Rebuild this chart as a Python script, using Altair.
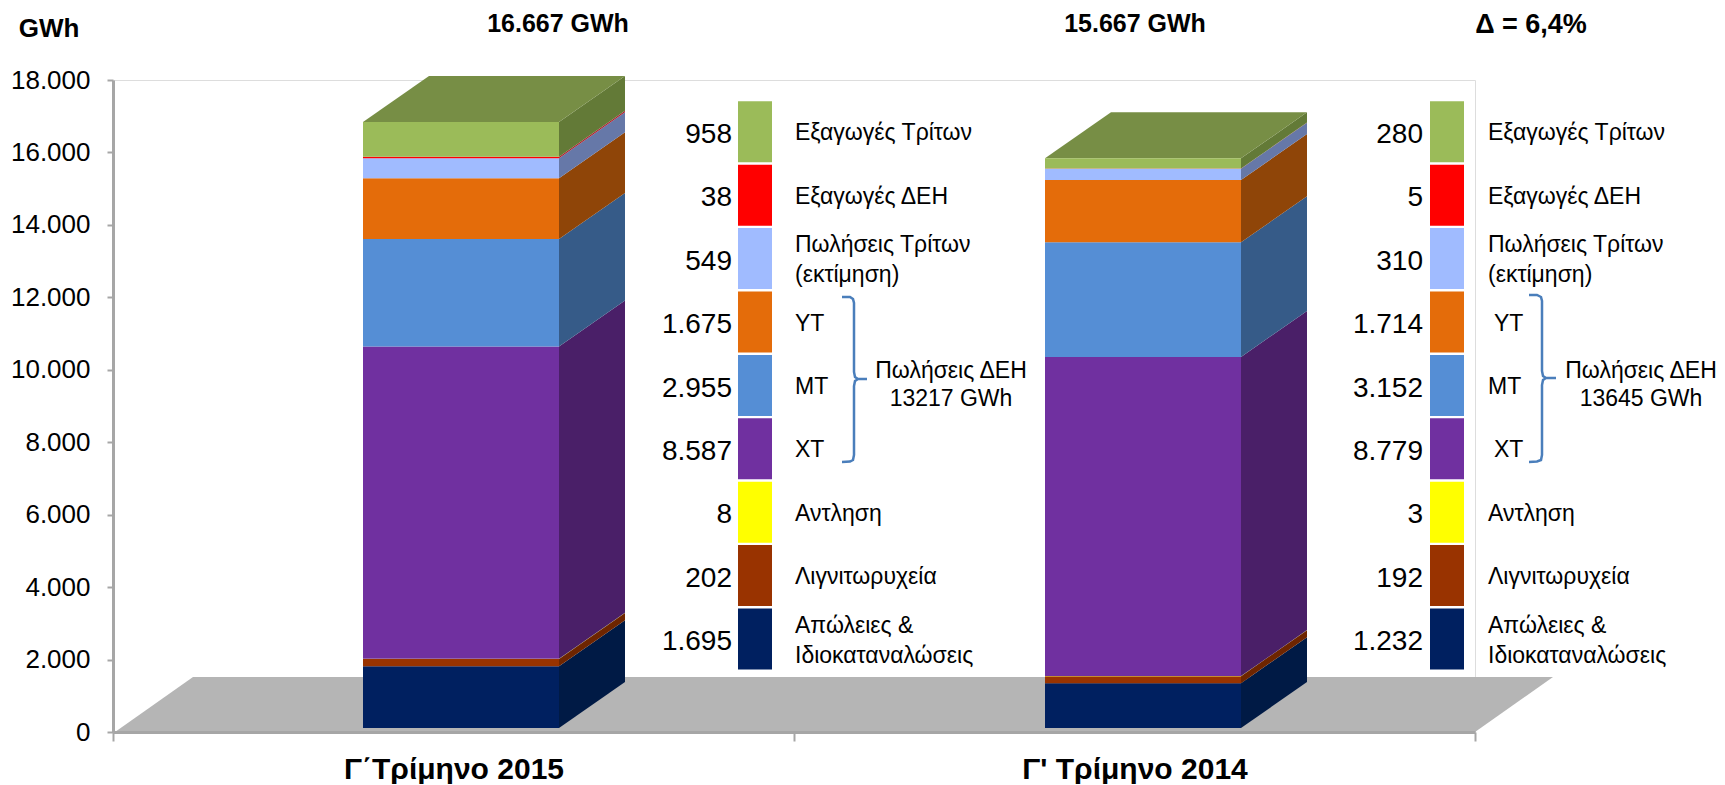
import altair as alt
import pandas as pd

FONT = "Liberation Sans"

# ---------- data ----------
periods = ["Γ΄Τρίμηνο 2015", "Γ' Τρίμηνο 2014"]
components = ["Απώλειες & Ιδιοκαταναλώσεις", "Λιγνιτωρυχεία", "Αντληση", "ΧΤ", "ΜΤ", "ΥΤ",
              "Πωλήσεις Τρίτων (εκτίμηση)", "Εξαγωγές ΔΕΗ", "Εξαγωγές Τρίτων"]
labels = ["Απώλειες &\nΙδιοκαταναλώσεις", "Λιγνιτωρυχεία", "Αντληση", "ΧΤ", "ΜΤ", "ΥΤ",
          "Πωλήσεις Τρίτων\n(εκτίμηση)", "Εξαγωγές ΔΕΗ", "Εξαγωγές Τρίτων"]
values_2015 = [1695, 202, 8, 8587, 2955, 1675, 549, 38, 958]
values_2014 = [1232, 192, 3, 8779, 3152, 1714, 310, 5, 280]
value_text_2015 = ["1.695", "202", "8", "8.587", "2.955", "1.675", "549", "38", "958"]
value_text_2014 = ["1.232", "192", "3", "8.779", "3.152", "1.714", "310", "5", "280"]
totals_text = ["16.667 GWh", "15.667 GWh"]
group_text = ["Πωλήσεις ΔΕΗ\n13217 GWh", "Πωλήσεις ΔΕΗ\n13645 GWh"]
delta_text = "Δ = 6,4%"
axis_ticks = [0, 2000, 4000, 6000, 8000, 10000, 12000, 14000, 16000, 18000]

# ---------- styles ----------
front = ["#002060", "#993300", "#FFFF00", "#7030A0", "#558ED5", "#E46C0A", "#A0BBFF", "#FF0000", "#9BBB59"]
side = ["#001a45", "#6e2500", "#a0a000", "#4a1f68", "#365b88", "#8f4508", "#6678a8", "#b02030", "#637a37"]
top_colour = "#778e45"
floor_colour = "#b5b5b5"
axis_colour = "#a6a6a6"
brace_colour = "#4a7ebb"

# ---------- layout (in scale units) ----------
PLOT_W, PLOT_H = 1362, 652
X_DOMAIN = [0, 2]
Y_AXIS_DOMAIN = [0, 18000]
BAR_BASE = -110                        # bars stand slightly above the axis zero, as drawn
Y_BAR_DOMAIN = [BAR_BASE, 17822]
ROW_PITCH = 63.4
ROW_DOMAIN = [-(732 - 669.5) / ROW_PITCH, (669.5 - 80) / ROW_PITCH]  # legend rows
LINE_H = 30


def xu(px):
    return (px - 113) / PLOT_W * 2


def ru(py):
    return (669.5 - py) / ROW_PITCH


bar_left = [xu(363), xu(1045)]
bar_width = xu(113 + 196)
depth_x = xu(113 + 66)
depth_y = 46 / 0.03636
floor_dx = xu(113 + 78)
floor_dy = 55 / 0.03636

x_enc = alt.Scale(domain=X_DOMAIN, nice=False, zero=False)
ybar_enc = alt.Scale(domain=Y_BAR_DOMAIN, nice=False, zero=False)
row_enc = alt.Scale(domain=ROW_DOMAIN, nice=False, zero=False)


def X(f="x"):
    return alt.X(f, type="quantitative", scale=x_enc, axis=None)


def Yb(f="y"):
    return alt.Y(f, type="quantitative", scale=ybar_enc, axis=None)


def Yr(f="y"):
    return alt.Y(f, type="quantitative", scale=row_enc, axis=None)


# ---------- tables ----------
front_rows, side_rows, top_rows = [], [], []
for b, vals in enumerate([values_2015, values_2014]):
    base = 0
    x0 = bar_left[b]
    x1 = x0 + bar_width
    for name, v, fc, sc in zip(components, vals, front, side):
        front_rows.append(dict(id=f"{b}-{name}", x=x0, x2=x1, y=base, y2=base + v, c=fc))
        side_rows.append(dict(id=f"{b}-{name}", x=x1, y=base, y2=base + v, c=sc))
        side_rows.append(dict(id=f"{b}-{name}", x=x1 + depth_x, y=base + depth_y, y2=base + v + depth_y, c=sc))
        base += v
    top_rows.append(dict(id=b, y=base, x=x0, x2=x1))
    top_rows.append(dict(id=b, y=base + depth_y, x=x0 + depth_x, x2=x1 + depth_x))

floor_rows = [dict(y=BAR_BASE, x=xu(115), x2=xu(1475)),
              dict(y=BAR_BASE + floor_dy, x=xu(115) + floor_dx, x2=xu(1475) + floor_dx)]

swatch_rows, value_rows, label_rows = [], [], []
panel_swatch = [(xu(738), xu(772)), (xu(1430), xu(1464))]
panel_value = [xu(732), xu(1423)]
panel_label = [xu(795), xu(1488)]
label_shift = [{}, {"ΥΤ": xu(113 + 6), "ΧΤ": xu(113 + 6)}]
for p, texts in enumerate([value_text_2015, value_text_2014]):
    for i, (lab, t, c) in enumerate(zip(labels, texts, front)):
        swatch_rows.append(dict(x=panel_swatch[p][0], x2=panel_swatch[p][1], y=i, y2=i + 0.962, c=c))
        value_rows.append(dict(x=panel_value[p], y=i + 0.43, t=t))
        # multi-line text hangs from its first line, so lift it by half a line
        lift = (LINE_H / 2 / ROW_PITCH) if "\n" in lab else 0
        label_rows.append(dict(x=panel_label[p] + label_shift[p].get(lab, 0), y=i + 0.455 + lift, t=lab))

brace_px = [
    [(842, 297), (850, 297), (853, 299), (854, 303), (854, 372), (855, 377), (858, 379), (867, 379),
     (858, 379), (855, 381), (854, 386), (854, 455), (853, 460), (850, 461.5), (842, 462)],
    [(1529, 295), (1537, 295), (1541, 297), (1542, 301), (1542, 371), (1543, 376), (1546, 378), (1556, 378),
     (1546, 378), (1543, 380), (1542, 385), (1542, 455), (1541, 460), (1537, 461.5), (1529, 462)],
]
brace_rows = []
for b, pts in enumerate(brace_px):
    for k, (px, py) in enumerate(pts):
        brace_rows.append(dict(id=b, k=k, x=xu(px), y=ru(py)))

group_rows = [dict(x=xu(951), y=ru(371), t=group_text[0]), dict(x=xu(1641), y=ru(371), t=group_text[1])]
title_rows = [dict(x=xu(558), y=ru(23.5), t=totals_text[0]), dict(x=xu(1135), y=ru(23.5), t=totals_text[1])]
delta_rows = [dict(x=xu(1531), y=ru(24.5), t=delta_text)]
unit_rows = [dict(x=xu(49), y=ru(29), t="GWh")]

# ---------- layers ----------
axis_layer = alt.Chart(pd.DataFrame({"p": periods, "v": [0, 0]})).mark_bar(opacity=0).encode(
    x=alt.X("p:N", sort=None, title=None,
            scale=alt.Scale(type="band", domain=periods, paddingInner=0, paddingOuter=0),
            axis=alt.Axis(labelAngle=0, tickBand="extent", labelFont=FONT, labelFontSize=30, labelLimit=600,
                          labelFontWeight="bold", labelColor="black", labelPadding=13, domainColor=axis_colour,
                          domainWidth=3, tickColor=axis_colour, tickWidth=2, tickSize=9, grid=False, zindex=1)),
    y=alt.Y("v:Q", stack=None, title=None, scale=alt.Scale(domain=Y_AXIS_DOMAIN, nice=False),
            axis=alt.Axis(values=axis_ticks, labelExpr="replace(format(datum.value, ','), ',', '.')",
                          labelFont=FONT, labelFontSize=26, labelColor="black", labelPadding=17, grid=False,
                          domainColor=axis_colour, domainWidth=3, tickColor=axis_colour, tickWidth=2,
                          tickSize=6, zindex=1)),
)

floor = alt.Chart(pd.DataFrame(floor_rows)).mark_area(orient="horizontal", color=floor_colour).encode(
    y=Yb(), x=X(), x2="x2:Q")

fronts = alt.Chart(pd.DataFrame(front_rows)).mark_rect().encode(
    x=X(), x2="x2:Q", y=Yb(), y2="y2:Q", color=alt.Color("c:N", scale=None))

sides = alt.Chart(pd.DataFrame(side_rows)).mark_area(orient="vertical").encode(
    x=X(), y=alt.Y("y", type="quantitative", scale=ybar_enc, axis=None, stack=None), y2="y2:Q",
    detail="id:N", color=alt.Color("c:N", scale=None))

tops = alt.Chart(pd.DataFrame(top_rows)).mark_area(orient="horizontal", color=top_colour).encode(
    y=Yb(), x=X(), x2="x2:Q", detail="id:N")

swatches = alt.Chart(pd.DataFrame(swatch_rows)).mark_rect().encode(
    x=X(), x2="x2:Q", y=Yr(), y2="y2:Q", color=alt.Color("c:N", scale=None))


def text_layer(rows, align, size, bold=False, line_height=None):
    kw = dict(align=align, baseline="middle", font=FONT, fontSize=size, color="black", lineBreak="\n")
    if bold:
        kw["fontWeight"] = "bold"
    if line_height:
        kw["lineHeight"] = line_height
    return alt.Chart(pd.DataFrame(rows)).mark_text(**kw).encode(x=X(), y=Yr(), text="t:N")


values_t = text_layer(value_rows, "right", 28)
labels_t = text_layer(label_rows, "left", 23, line_height=LINE_H)
groups_t = text_layer(group_rows, "center", 23, line_height=28)
titles_t = text_layer(title_rows, "center", 25, bold=True)
delta_t = text_layer(delta_rows, "center", 27, bold=True)
unit_t = text_layer(unit_rows, "center", 26, bold=True)

braces = alt.Chart(pd.DataFrame(brace_rows)).mark_line(color=brace_colour, strokeWidth=2.5).encode(
    x=X(), y=Yr(), detail="id:N", order="k:Q")

chart = alt.layer(
    axis_layer, floor, sides, tops, fronts, swatches, braces,
    values_t, labels_t, groups_t, titles_t, delta_t, unit_t,
).resolve_scale(x="independent", y="independent", color="independent").properties(
    width=PLOT_W, height=PLOT_H,
    padding={"left": 105, "top": 72, "right": 242, "bottom": 52},
    autosize=alt.AutoSizeParams(type="none"),
).configure_view(stroke=None).configure(background="white")

chart.save("out.html", embed_options={"renderer": "svg", "actions": False})
